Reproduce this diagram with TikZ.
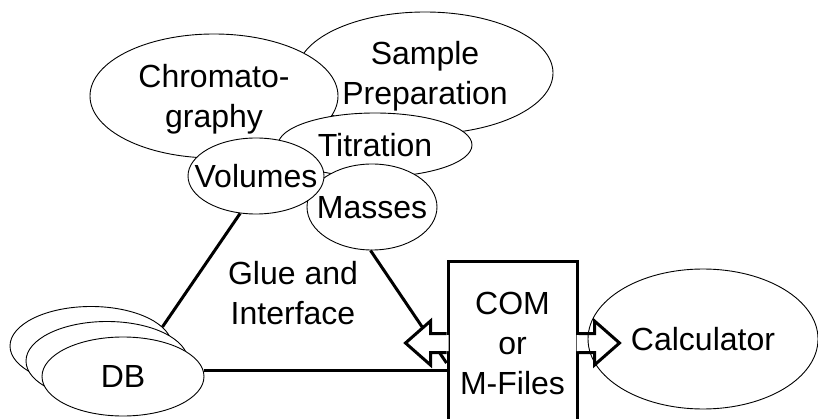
\documentclass[tikz,border=0pt]{standalone}
\usepackage{fontspec}
\setmainfont{Liberation Sans}
\usetikzlibrary{shapes.geometric,calc}
\begin{document}
\begin{tikzpicture}[x=1pt,y=-1pt,
  bub/.style={ellipse,draw,fill=white,line width=0.9pt,inner sep=0pt,align=center,text depth=0pt,font=\fontsize{32}{40}\selectfont},
  conn/.style={line width=3pt},
  txt/.style={inner sep=0pt,align=center,text depth=0pt,font=\fontsize{32}{40}\selectfont},
  arr/.style={line width=3pt,line join=miter}]
\useasboundingbox (0,0) rectangle (818,419);
% bubbles
\node[bub,minimum width=256pt,minimum height=122pt] (smp) at (425,73) {Sample\\Preparation};
\node[bub,minimum width=248pt,minimum height=124pt] (chr) at (214,96) {Chromato-\\graphy};
\node[bub,minimum width=194pt,minimum height=64pt] (tit) at (375,145) {Titration};
\node[bub,minimum width=130pt,minimum height=86pt] (mas) at (372,207) {\makebox[0pt]{Masses}};
\node[bub,minimum width=136pt,minimum height=76pt] (vol) at (256,176) {\makebox[0pt]{Volumes}};
% DB stack
\node[bub,minimum width=162pt,minimum height=79pt] (dbb) at (91,346) {};
\node[bub,minimum width=162pt,minimum height=79pt] (dbm) at (107,361) {};
\node[bub,minimum width=162pt,minimum height=79pt] (dbf) at (123,376.5) {DB};
% label
\node[txt] (glue) at (293,293) {Glue and\\Interface};
% connectors
\draw[conn] (vol.247) -- (dbb.15);
\node[txt,text depth=40pt,draw,line width=3pt,minimum width=129pt,minimum height=202pt] (com) at (512.5,363) {COM\\or\\M-Files};
\coordinate (la) at ([yshift=20pt]com.west);
\coordinate (ra) at ([yshift=20pt]com.east);
\draw[conn] (dbf.4) -- (dbf.4 -| com.west);
\draw[conn] (mas.268) -- (com.west);
% left arrow
\fill[white] ($(la)+(2,-8)$) -- ++(-18,0) -- ++(0,-14) -- ++(-25,22) -- ++(25,22) -- ++(0,-14) -- ++(18,0) -- cycle;
\draw[arr] ($(la)+(0,-9.5)$) -- ++(-16,0) -- ++(0,-12.5) -- ++(-25,22) -- ++(25,22) -- ++(0,-12.5) -- ++(16,0);
% right arrow
\fill[white] ($(ra)+(-2,-8)$) -- ++(18,0) -- ++(0,-14) -- ++(25,22) -- ++(-25,22) -- ++(0,-14) -- ++(-18,0) -- cycle;
\draw[arr] ($(ra)+(0,-9.5)$) -- ++(16,0) -- ++(0,-12.5) -- ++(25,22) -- ++(-25,22) -- ++(0,-12.5) -- ++(-16,0);
% calculator
\node[bub,fill=none,minimum width=230pt,minimum height=140pt] (calc) at (703,339) {Calculator};
\end{tikzpicture}
\end{document}
